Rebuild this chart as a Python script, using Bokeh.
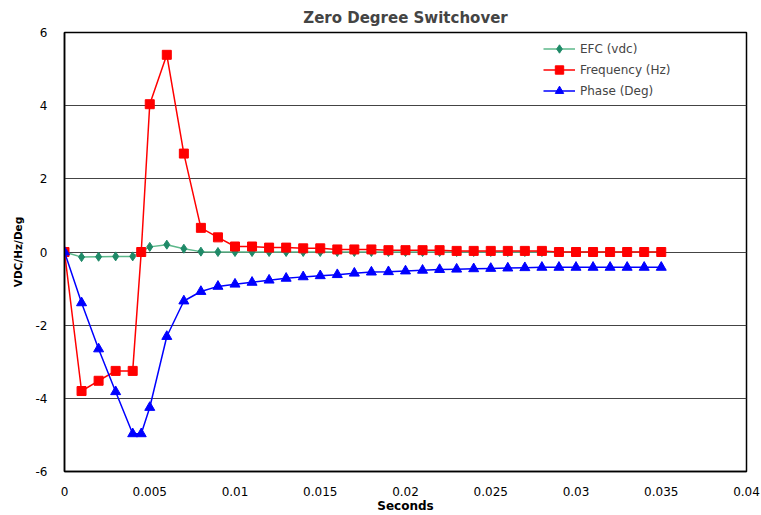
from bokeh.plotting import figure
from bokeh.models import Legend, LegendItem, FixedTicker, Range1d
from bokeh.embed import file_html
from bokeh.resources import INLINE

# --- data ---
seconds = [0, 0.001, 0.002, 0.003, 0.004, 0.0045, 0.005, 0.006, 0.007, 0.008, 0.009,
           0.010, 0.011, 0.012, 0.013, 0.014, 0.015, 0.016, 0.017, 0.018, 0.019,
           0.020, 0.021, 0.022, 0.023, 0.024, 0.025, 0.026, 0.027, 0.028, 0.029,
           0.030, 0.031, 0.032, 0.033, 0.034, 0.035]

efc_seconds = [0, 0.001, 0.002, 0.003, 0.004, 0.005, 0.006, 0.007, 0.008, 0.009,
               0.010, 0.011, 0.012, 0.013, 0.014, 0.015, 0.016, 0.017, 0.018, 0.019,
               0.020, 0.021, 0.022, 0.023, 0.024, 0.025, 0.026, 0.027, 0.028, 0.029,
               0.030, 0.031, 0.032, 0.033, 0.034, 0.035]
efc = [0, -0.14, -0.13, -0.12, -0.12, 0.14, 0.20, 0.09, 0.01, 0.0,
       0.0, 0.0, 0.0, 0.0, 0.0, 0.0, 0.0, 0.0, 0.0, 0.0,
       0.0, 0.0, 0.0, 0.0, 0.0, 0.0, 0.0, 0.0, 0.0, 0.0,
       0.0, 0.0, 0.0, 0.0, 0.0, 0.0]

frequency = [0, -3.80, -3.52, -3.25, -3.25, 0.0, 4.04, 5.39, 2.69, 0.66, 0.40,
             0.15, 0.15, 0.12, 0.12, 0.10, 0.10, 0.07, 0.07, 0.07, 0.05,
             0.05, 0.05, 0.05, 0.03, 0.03, 0.03, 0.03, 0.03, 0.03, 0.0,
             0.0, 0.0, 0.0, 0.0, 0.0, 0.0]

phase = [0, -1.39, -2.65, -3.82, -4.97, -4.97, -4.25, -2.31, -1.34, -1.08, -0.94,
         -0.88, -0.83, -0.77, -0.72, -0.68, -0.65, -0.62, -0.58, -0.55, -0.54,
         -0.52, -0.50, -0.48, -0.47, -0.46, -0.45, -0.44, -0.43, -0.42, -0.42,
         -0.42, -0.42, -0.42, -0.42, -0.42, -0.42]

x_ticks = [0, 0.005, 0.01, 0.015, 0.02, 0.025, 0.03, 0.035, 0.04]
x_tick_labels = ["0", "0.005", "0.01", "0.015", "0.02", "0.025", "0.03", "0.035", "0.04"]
y_ticks = [-6, -4, -2, 0, 2, 4, 6]
y_tick_labels = ["-6", "-4", "-2", "0", "2", "4", "6"]

FONT = "DejaVu Sans"

p = figure(width=761, height=515, output_backend="svg", toolbar_location=None,
           x_range=Range1d(0, 0.04), y_range=Range1d(-6, 6),
           min_border_left=64, min_border_right=15, min_border_top=31, min_border_bottom=44,
           background_fill_color="white", border_fill_color="white")

p.title.text = "Zero Degree Switchover"
p.title.align = "center"
p.title.text_font = FONT
p.title.text_font_size = "15px"
p.title.text_font_style = "bold"
p.title.standoff = 12

p.outline_line_color = "black"
p.outline_line_width = 1.5

p.xaxis.ticker = FixedTicker(ticks=x_ticks)
p.xaxis.major_label_overrides = dict(zip(x_ticks, x_tick_labels))
p.yaxis.ticker = FixedTicker(ticks=y_ticks)
p.yaxis.major_label_overrides = dict(zip(y_ticks, y_tick_labels))
for ax in (p.xaxis, p.yaxis):
    ax.major_tick_line_color = None
    ax.minor_tick_line_color = None
    ax.axis_line_color = "black"
    ax.axis_line_width = 1.5
    ax.major_label_text_font = FONT
    ax.major_label_text_font_size = "12px"
    ax.major_label_text_color = "black"
    ax.axis_label_text_font = FONT
    ax.axis_label_text_font_style = "bold"
    ax.axis_label_text_color = "black"

p.xaxis.axis_label = "Seconds"
p.xaxis.axis_label_text_font_size = "12px"
p.xaxis.major_label_standoff = 9
p.xaxis.axis_label_standoff = 0
p.yaxis.axis_label = "VDC/Hz/Deg"
p.yaxis.axis_label_text_font_size = "10.5px"
p.yaxis.major_label_standoff = 11
p.yaxis.axis_label_standoff = 9

p.xgrid.grid_line_color = None
p.ygrid.grid_line_color = "#444444"
p.ygrid.grid_line_width = 1

efc_line = p.line(efc_seconds, efc, line_color="#5cb88a", line_width=1.5)
efc_mark = p.scatter(efc_seconds, efc, marker="diamond", size=9,
                     fill_color="#1f8a68", line_color="#1f8a68")
fr_line = p.line(seconds, frequency, line_color="#ff0000", line_width=1.5)
fr_mark = p.scatter(seconds, frequency, marker="square", size=9,
                    fill_color="#ff0000", line_color="#ff0000")
ph_line = p.line(seconds, phase, line_color="#0000ff", line_width=1.5)
ph_mark = p.scatter(seconds, phase, marker="triangle", size=10,
                    fill_color="#0000ff", line_color="#0000ff")

legend = Legend(items=[
    LegendItem(label="EFC (vdc)", renderers=[efc_line, efc_mark]),
    LegendItem(label="Frequency (Hz)", renderers=[fr_line, fr_mark]),
    LegendItem(label="Phase (Deg)", renderers=[ph_line, ph_mark]),
], location=(479, 370))
legend.border_line_color = None
legend.background_fill_alpha = 0
legend.label_text_font = FONT
legend.label_text_font_size = "12px"
legend.glyph_width = 32
legend.glyph_height = 21
legend.label_height = 21
legend.spacing = 0
legend.padding = 0
legend.margin = 0
legend.label_standoff = 5
p.add_layout(legend, "center")

open("out.html", "w").write(file_html(p, INLINE))
